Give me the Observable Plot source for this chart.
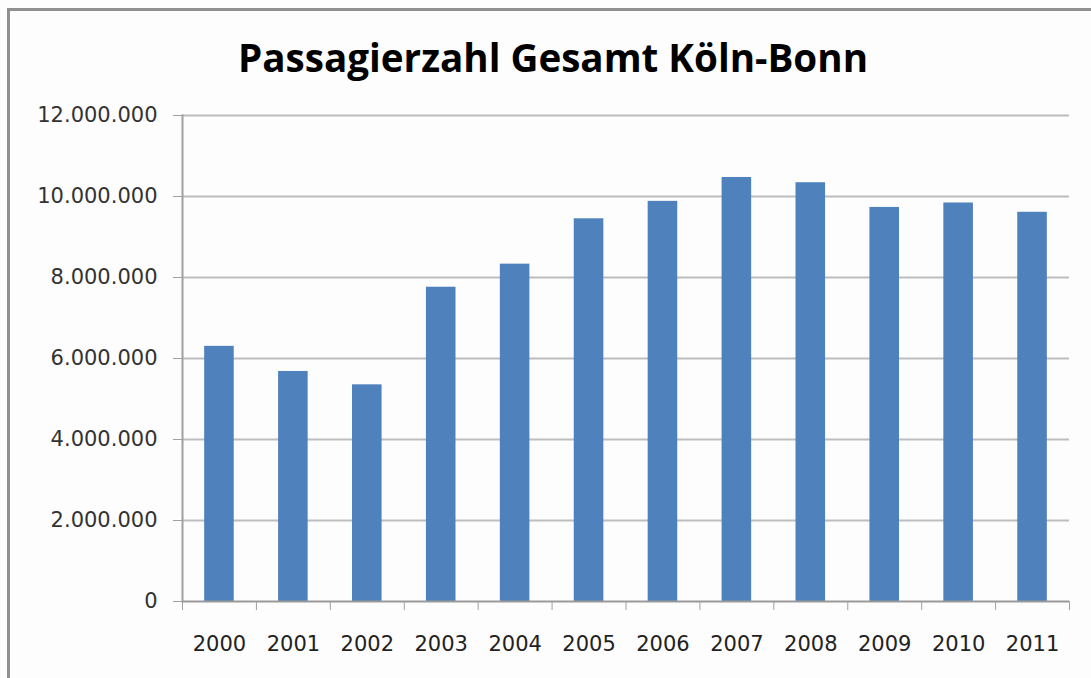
<!DOCTYPE html>
<html>
<head>
<meta charset="utf-8">
<script src="https://cdn.jsdelivr.net/npm/d3@7"></script>
<script src="https://cdn.jsdelivr.net/npm/@observablehq/plot@0.6"></script>
<style>
  html, body { margin: 0; padding: 0; background: #fdfdfd; width: 1091px; height: 678px; overflow: hidden; }
  #wrap { position: relative; width: 1091px; height: 678px; }
  #border { position: absolute; left: 7px; top: 8px; width: 1200px; height: 800px;
            border-left: 3px solid #909090; border-top: 3px solid #909090; pointer-events: none; }
  #title { display: block; }
  #chart svg { display: block; }
</style>
</head>
<body>
<div id="wrap">
  <svg id="title" width="1091" height="100">
    <text x="238" y="72" textLength="630" lengthAdjust="spacingAndGlyphs"
          font-family="'Open Sans', 'DejaVu Sans', sans-serif" font-weight="bold" font-size="40" fill="#000">Passagierzahl Gesamt Köln-Bonn</text>
  </svg>
  <div id="chart"></div>
  <div id="border"></div>
</div>
<script>
const years = ["2000","2001","2002","2003","2004","2005","2006","2007","2008","2009","2010","2011"];
const passengers = [6300000, 5680000, 5350000, 7760000, 8330000, 9450000, 9880000, 10470000, 10340000, 9730000, 9840000, 9610000];
const yTicks = [0, 2000000, 4000000, 6000000, 8000000, 10000000, 12000000];

const data = years.map((y, i) => ({year: y, value: passengers[i]}));
const fmt = d => d3.format(",")(d).replace(/,/g, ".");

const W = 1091, ML = 182, MR = 22;
const step = (W - ML - MR) / years.length;

const chart = Plot.plot({
  width: W,
  height: 578,
  marginTop: 15,
  marginBottom: 77,
  marginLeft: ML,
  marginRight: MR,
  style: {background: "transparent", fontFamily: "'DejaVu Sans', sans-serif", fontSize: "21px", color: "#222"},
  x: {domain: years, paddingInner: 0.6, paddingOuter: 0.3, align: 0.5, round: false, label: null},
  y: {domain: [0, 12000000], label: null},
  marks: [
    Plot.gridY(yTicks.filter(d => d > 0), {stroke: "#bdbdbd", strokeWidth: 2, strokeOpacity: 1}),
    Plot.barY(data, {x: "year", y: "value", fill: "#4f81bd"}),
    Plot.ruleY([0], {stroke: "#9a9a9a", strokeWidth: 2}),
    Plot.frame({anchor: "left", stroke: "#a0a0a0", strokeWidth: 2}),
    Plot.axisY({ticks: yTicks, tickFormat: fmt, tickSize: 9, tickPadding: 16, stroke: "#a0a0a0", fill: "#333", fontSize: 21, label: null}),
    Plot.axisX({ticks: years, tickSize: 9, dx: -step / 2, tickFormat: () => "", stroke: "#a0a0a0", label: null}),
    Plot.axisX({ticks: ["2011"], tickSize: 9, dx: step / 2, tickFormat: () => "", stroke: "#a0a0a0", label: null}),
    Plot.axisX({ticks: years, tickSize: 0, tickPadding: 35, fill: "#222", fontSize: 21, label: null})
  ]
});
document.getElementById("chart").appendChild(chart);
</script>
</body>
</html>
